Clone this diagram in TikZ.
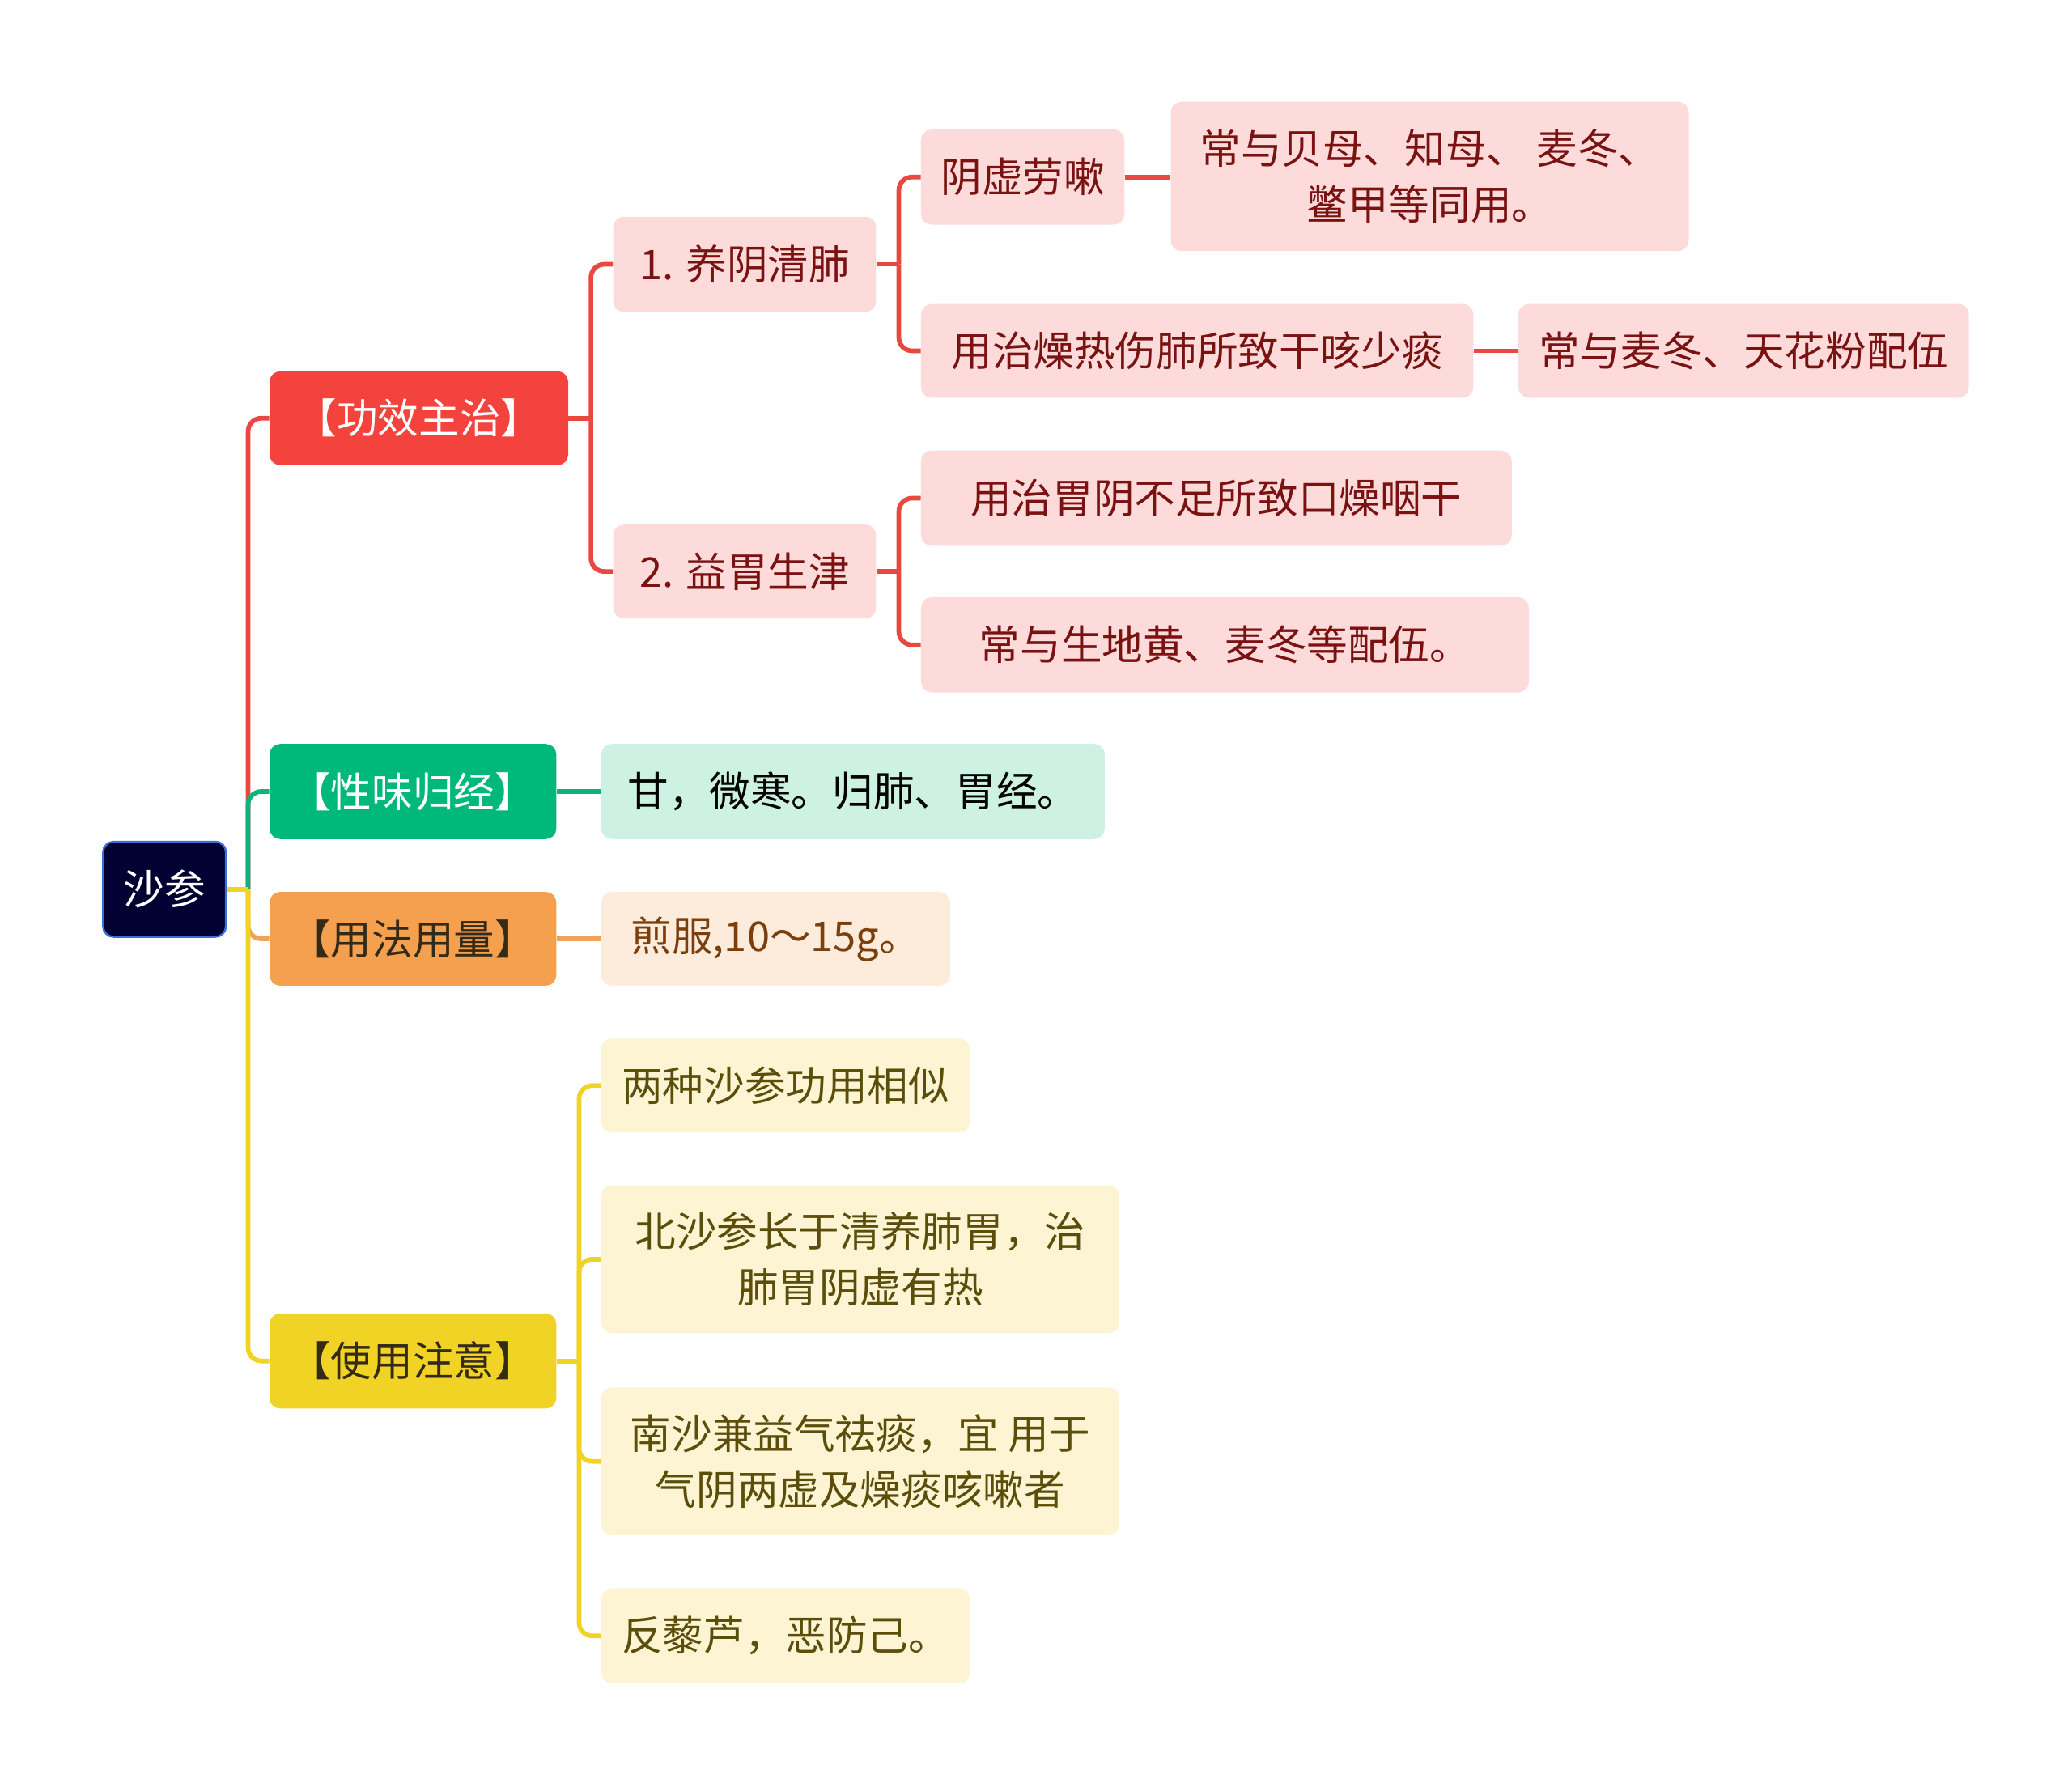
\documentclass[tikz,border=0pt]{standalone}
\usepackage{fontspec}
\setmainfont{Noto Sans CJK SC}
\usetikzlibrary{calc}
\definecolor{rootfill}{HTML}{000033}
\definecolor{rootborder}{HTML}{3B6FD8}
\definecolor{redmain}{HTML}{F4433C}
\definecolor{redln}{HTML}{E8483F}
\definecolor{redsub}{HTML}{FDDBDB}
\definecolor{redtext}{HTML}{7A1212}
\definecolor{greenmain}{HTML}{00B87A}
\definecolor{greenln}{HTML}{12B27C}
\definecolor{greensub}{HTML}{CDF1E3}
\definecolor{orangemain}{HTML}{F4A04E}
\definecolor{orangeln}{HTML}{F0A258}
\definecolor{orangesub}{HTML}{FDEBDC}
\definecolor{orangetext}{HTML}{7A3F0C}
\definecolor{yellowmain}{HTML}{F0D324}
\definecolor{yellowsub}{HTML}{FCF4D2}
\definecolor{yellowtext}{HTML}{5B4E0B}
\definecolor{darktext}{HTML}{332A18}
\tikzset{
  box/.style={rectangle, rounded corners=8pt, inner sep=0pt, align=center,
    font=\fontsize{31}{42}\selectfont},
  rootbox/.style={box, fill=rootfill, draw=rootborder, line width=1.5pt, text=white},
  redL1/.style={box, fill=redmain, text=white},
  redL2/.style={box, fill=redsub, text=redtext},
  greenL1/.style={box, fill=greenmain, text=white},
  greenL2/.style={box, fill=greensub, text=black},
  orangeL1/.style={box, fill=orangemain, text=darktext},
  orangeL2/.style={box, fill=orangesub, text=orangetext},
  yellowL1/.style={box, fill=yellowmain, text=darktext},
  yellowL2/.style={box, fill=yellowsub, text=yellowtext},
  conn/.style={line width=3.5pt, rounded corners=10pt},
  redconn/.style={conn, draw=redln},
  greenconn/.style={conn, draw=greenln},
  orangeconn/.style={conn, draw=orangeln},
  yellowconn/.style={conn, draw=yellowmain},
}
\begin{document}
\begin{tikzpicture}[x=1pt,y=-1pt]
\useasboundingbox (0,0) rectangle (1568,1352);
% root
\node[rootbox, minimum width=93pt, minimum height=72pt] (root) at (124.5,673) {沙参};
% level 1
\node[redL1, minimum width=226pt, minimum height=71pt] (gx) at (317,316.5) {【功效主治】};
\node[greenL1, minimum width=217pt, minimum height=72pt] (xw) at (312.5,599) {【性味归经】};
\node[orangeL1, minimum width=217pt, minimum height=71pt] (yf) at (312.5,710.5) {【用法用量】};
\node[yellowL1, minimum width=217pt, minimum height=72pt] (sy) at (312.5,1030) {【使用注意】};
% red branch
\node[redL2, minimum width=199pt, minimum height=72pt] (a1) at (563.5,200) {1. 养阴清肺};
\node[redL2, minimum width=199pt, minimum height=71pt] (a2) at (563.5,432.5) {2. 益胃生津};
\node[redL2, minimum width=154pt, minimum height=72pt] (b1) at (774,134) {阴虚劳嗽};
\node[redL2, minimum width=392pt, minimum height=113pt] (b2) at (1082,133.5) {常与贝母、知母、 麦冬、\\鳖甲等同用。};
\node[redL2, minimum width=418pt, minimum height=71pt] (b3) at (906,265.5) {用治燥热伤肺所致干咳少痰};
\node[redL2, minimum width=341pt, minimum height=71pt] (b4) at (1319.5,265.5) {常与麦冬、天花粉配伍};
\node[redL2, minimum width=447pt, minimum height=72pt] (b5) at (920.5,377) {用治胃阴不足所致口燥咽干};
\node[redL2, minimum width=460pt, minimum height=72pt] (b6) at (927,488) {常与生地黄、麦冬等配伍。};
% green
\node[greenL2, minimum width=381pt, minimum height=72pt] (c1) at (645.5,599) {甘，微寒。归肺、胃经。};
% orange
\node[orangeL2, minimum width=264pt, minimum height=71pt] (d1) at (587,710.5) {煎服,10〜15g。};
% yellow
\node[yellowL2, minimum width=279pt, minimum height=71pt] (e1) at (594.5,821.5) {两种沙参功用相似};
\node[yellowL2, minimum width=392pt, minimum height=112pt] (e2) at (651,953) {北沙参长于清养肺胃，治\\肺胃阴虚有热};
\node[yellowL2, minimum width=392pt, minimum height=112pt] (e3) at (651,1106) {南沙兼益气祛痰，宜 用于\\气阴两虚及燥痰咳嗽者};
\node[yellowL2, minimum width=279pt, minimum height=72pt] (e4) at (594.5,1238) {反藜芦，恶防己。};
% junctions
\coordinate (rj) at ($(root.east)+(16,0)$);
\coordinate (gj) at ($(gx.east)+(17,0)$);
\coordinate (a1j) at ($(a1.east)+(17,0)$);
\coordinate (a2j) at ($(a2.east)+(17,0)$);
\coordinate (sj) at ($(sy.east)+(17,0)$);
% root connectors
\draw[redconn] (rj) |- (gx.west);
\draw[greenconn] (rj) |- (xw.west);
\draw[orangeconn] (rj) |- (yf.west);
\draw[yellowconn] (rj) |- (sy.west);
\draw[yellowconn] (root.east) -- (rj);
% red sub-connectors
\draw[redconn] (gx.east) -- (gj);
\draw[redconn] (gj) |- (a1.west);
\draw[redconn] (gj) |- (a2.west);
\draw[redconn] (a1.east) -- (a1j);
\draw[redconn] (a1j) |- (b1.west);
\draw[redconn] (a1j) |- (b3.west);
\draw[redconn] (a2.east) -- (a2j);
\draw[redconn] (a2j) |- (b5.west);
\draw[redconn] (a2j) |- (b6.west);
\draw[redconn] (b1.east) -- (b1.east -| b2.west);
\draw[redconn] (b3.east) -- (b4.west);
% green / orange
\draw[greenconn] (xw.east) -- (c1.west);
\draw[orangeconn] (yf.east) -- (d1.west);
% yellow
\draw[yellowconn] (sy.east) -- (sj);
\draw[yellowconn] (sj) |- (e1.west);
\draw[yellowconn] (sj) |- (e2.west);
\draw[yellowconn] (sj) |- (e3.west);
\draw[yellowconn] (sj) |- (e4.west);
\end{tikzpicture}
\end{document}
